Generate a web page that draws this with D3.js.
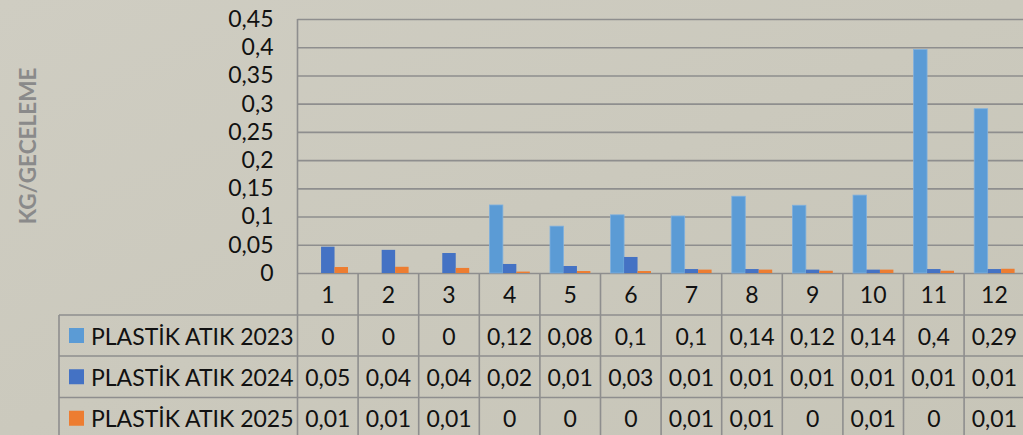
<!DOCTYPE html>
<html><head><meta charset="utf-8">
<script src="https://cdn.jsdelivr.net/npm/d3@7"></script>
<style>html,body{margin:0;padding:0;background:#cbc9bd;overflow:hidden}svg{display:block}</style>
</head><body>
<script>
const categories = ["1","2","3","4","5","6","7","8","9","10","11","12"];
const seriesNames = ["PLASTİK ATIK 2023","PLASTİK ATIK 2024","PLASTİK ATIK 2025"];
const values2023 = [0,0,0,0.1205,0.083,0.103,0.101,0.136,0.12,0.138,0.396,0.291];
const values2024 = [0.0466,0.041,0.0354,0.016,0.0124,0.0284,0.007,0.007,0.006,0.006,0.007,0.007];
const values2025 = [0.0106,0.011,0.009,0.0025,0.0035,0.0035,0.006,0.006,0.004,0.006,0.004,0.0075];
const seriesColors = ["#5b9bd5","#4472c4","#ed7d31"];
const yTicks = [0,0.05,0.1,0.15,0.2,0.25,0.3,0.35,0.4,0.45];
const yTitle = "KG/GECELEME";

const W=1023,H=435;
const FONT="Lato, 'Noto Sans', sans-serif";
const svg=d3.select("body").append("svg").attr("width",W).attr("height",H);
const defs=svg.append("defs");
const g0=defs.append("linearGradient").attr("id","bg").attr("x1","0").attr("y1","0").attr("x2","1").attr("y2","1");
g0.append("stop").attr("offset","0").attr("stop-color","#cfcdc2");
g0.append("stop").attr("offset","0.5").attr("stop-color","#cbc9bd");
g0.append("stop").attr("offset","1").attr("stop-color","#c7c5b8");
svg.append("rect").attr("width",W).attr("height",H).attr("fill","url(#bg)");

const left=297.5, cellW=60.6, right=left+cellW*12;
const yTop=19, yBase=273;
const x0=d3.scaleBand().domain(categories).range([left,right]).padding(0);
const x1=d3.scaleBand().domain(seriesNames).range([0,cellW]).paddingInner(0).paddingOuter(0.75);
const y=d3.scaleLinear().domain([0,0.45]).range([yBase,yTop]);
const loc=d3.formatLocale({decimal:",",thousands:".",grouping:[3],currency:["",""]});
const fmt=loc.format(".2~f");
const gridColor="#8e8e8e";

// y axis with gridlines
const yAxis=d3.axisLeft(y).tickValues(yTicks).tickFormat(fmt).tickSizeInner(-(right-left)).tickSizeOuter(0).tickPadding(24);
const ga=svg.append("g").attr("transform",`translate(${left},0)`).call(yAxis);
ga.select(".domain").remove();
ga.selectAll(".tick line").attr("stroke",gridColor).attr("stroke-width",1.6);
ga.selectAll(".tick text").attr("font-family",FONT).attr("font-size",23).attr("fill","#111");

// axis title
svg.append("text").attr("transform","translate(36,146) rotate(-90)").attr("text-anchor","middle")
  .attr("font-family",FONT).attr("font-weight","bold").attr("font-size",22.5).attr("fill","#8a8a8a").text(yTitle);

// bars
const allValues=[values2023,values2024,values2025];
seriesNames.forEach((s,si)=>{
  svg.append("g").selectAll("rect").data(allValues[si]).join("rect")
    .attr("x",(d,i)=>x0(categories[i])+x1(s))
    .attr("y",d=>y(d))
    .attr("width",x1.bandwidth())
    .attr("height",d=>yBase-y(d))
    .attr("fill",seriesColors[si])
    .attr("stroke",si===0?"#7fb0de":"none").attr("stroke-width",0.8);
});

// table
const rowsY=[273,315,356,397.5,439];
const tableLeft=59;
const tg=svg.append("g");
tg.selectAll("line.v").data(categories.concat(["end"])).join("line")
  .attr("x1",(d,i)=>left+i*cellW).attr("x2",(d,i)=>left+i*cellW)
  .attr("y1",(d,i)=>i===0?yTop:yBase).attr("y2",H)
  .attr("stroke",gridColor).attr("stroke-width",1.6);
tg.selectAll("line.h").data(rowsY.slice(1,4)).join("line")
  .attr("x1",tableLeft).attr("x2",right).attr("y1",d=>d).attr("y2",d=>d)
  .attr("stroke",gridColor).attr("stroke-width",1.6);
tg.append("line").attr("x1",tableLeft).attr("x2",tableLeft).attr("y1",rowsY[1]).attr("y2",H)
  .attr("stroke",gridColor).attr("stroke-width",1.6);
tg.selectAll("text.cat").data(categories).join("text")
  .attr("x",d=>x0(d)+cellW/2).attr("y",(rowsY[0]+rowsY[1])/2+1).attr("dy","0.35em")
  .attr("text-anchor","middle").attr("font-family",FONT).attr("font-size",23).attr("fill","#111").text(d=>d);
seriesNames.forEach((s,si)=>{
  const cy=(rowsY[si+1]+rowsY[si+2])/2+1;
  tg.append("rect").attr("x",69).attr("y",cy-8.5).attr("width",15).attr("height",15).attr("fill",seriesColors[si]);
  tg.append("text").attr("x",91).attr("y",cy).attr("dy","0.35em").attr("font-family",FONT).attr("font-size",23).attr("fill","#111").text(s);
  tg.selectAll(null).data(allValues[si]).join("text")
    .attr("x",(d,i)=>x0(categories[i])+cellW/2).attr("y",cy).attr("dy","0.35em")
    .attr("text-anchor","middle").attr("font-family",FONT).attr("font-size",23).attr("fill","#111")
    .text(d=>fmt(d));
});
</script>
</body></html>
